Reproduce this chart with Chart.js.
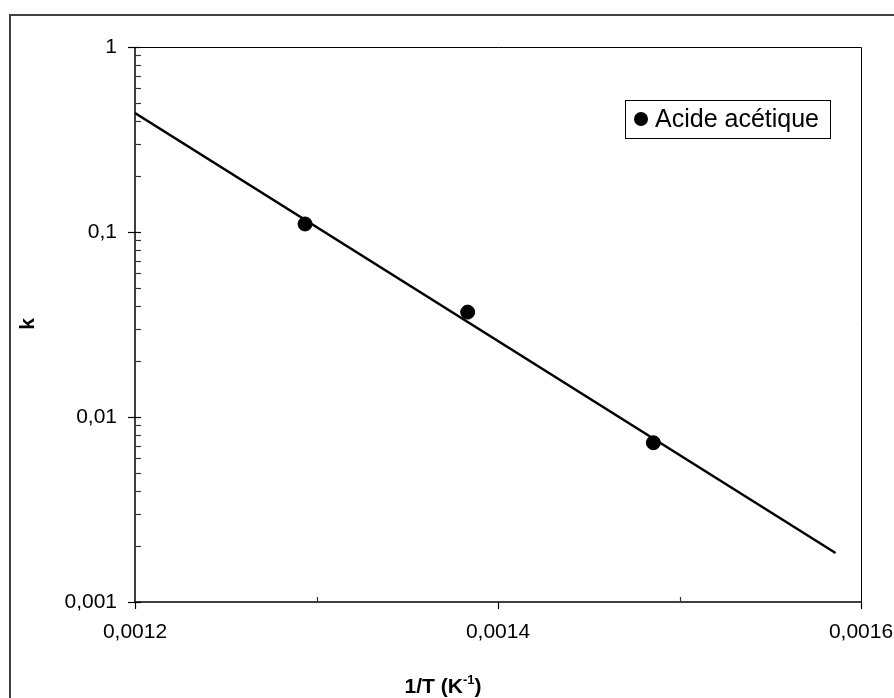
<!DOCTYPE html>
<html>
<head>
<meta charset="utf-8">
<script src="https://cdn.jsdelivr.net/npm/chart.js@4/dist/chart.umd.min.js"></script>
<style>
  html, body { margin: 0; padding: 0; background: #fff; }
  #wrap { position: relative; width: 894px; height: 698px; overflow: hidden; }
  #frame { position: absolute; left: 9px; top: 14px; width: 920px; height: 720px; border: 2px solid #404040; box-sizing: border-box; }
  canvas { position: absolute; left: 0; top: 0; }
</style>
</head>
<body>
<div id="wrap">
  <div id="frame"></div>
  <canvas id="c" width="894" height="698"></canvas>
</div>
<script>
// measured points
const seriesLabel = "Acide acétique";
const pointX = [0.0012937, 0.0013833, 0.0014856];
const pointY = [0.1105, 0.0369, 0.00726];

// fitted line (ends)
const fitX = [0.0012, 0.001586];
const fitY = [0.44, 0.00184];

// axes
const xMin = 0.0012, xMax = 0.0016;
const yMin = 0.001, yMax = 1;
const xMajor = [0.0012, 0.0014, 0.0016];
const xMinor = [0.0013, 0.0015];
const yMajor = [0.001, 0.01, 0.1, 1];
const yMinorMult = [2, 3, 4, 5, 6, 7, 8, 9];

const FONT = "Arial, 'Liberation Sans', sans-serif";
const fmt = (v) => String(Number(v.toPrecision(6))).replace(".", ",");

const frameAndTicks = {
  id: "frameAndTicks",
  afterDraw(chart) {
    const { ctx, chartArea: a, scales: { x, y } } = chart;
    ctx.save();
    ctx.strokeStyle = "#000";
    // box
    ctx.lineWidth = 1;
    ctx.beginPath();
    ctx.moveTo(a.left, a.top + 0.5); ctx.lineTo(a.right + 0.5, a.top + 0.5); ctx.lineTo(a.right + 0.5, a.bottom);
    ctx.stroke();
    ctx.lineWidth = 1.5;
    ctx.beginPath();
    ctx.moveTo(a.left, a.top); ctx.lineTo(a.left, a.bottom); ctx.lineTo(a.right, a.bottom);
    ctx.stroke();
    // y ticks
    ctx.lineWidth = 1.2;
    for (const v of yMajor) {
      const py = Math.round(y.getPixelForValue(v)) + 0.5;
      ctx.beginPath(); ctx.moveTo(a.left - 7, py); ctx.lineTo(a.left + 6, py); ctx.stroke();
    }
    ctx.strokeStyle = "#333";
    for (let i = 0; i < yMajor.length - 1; i++) {
      for (const m of yMinorMult) {
        const py = Math.round(y.getPixelForValue(yMajor[i] * m)) + 0.5;
        ctx.beginPath(); ctx.moveTo(a.left, py); ctx.lineTo(a.left + 6, py); ctx.stroke();
      }
    }
    // x ticks
    ctx.strokeStyle = "#000";
    for (const v of xMajor) {
      const px = Math.round(x.getPixelForValue(v)) + 0.5;
      ctx.beginPath(); ctx.moveTo(px, a.bottom); ctx.lineTo(px, a.bottom + 7); ctx.stroke();
    }
    ctx.strokeStyle = "#333";
    for (const v of xMinor) {
      const px = Math.round(x.getPixelForValue(v)) + 0.5;
      ctx.beginPath(); ctx.moveTo(px, a.bottom); ctx.lineTo(px, a.bottom - 5); ctx.stroke();
    }

    // axis titles
    ctx.fillStyle = "#000";
    ctx.textBaseline = "alphabetic";
    ctx.font = "bold 21px " + FONT;
    const main = "1/T (K";
    const sup = "-1";
    const tail = ")";
    const wMain = ctx.measureText(main).width;
    const wTail = ctx.measureText(tail).width;
    ctx.font = "bold 13px " + FONT;
    const wSup = ctx.measureText(sup).width;
    let tx = 443 - (wMain + wSup + wTail) / 2;
    const by = 693;
    ctx.font = "bold 21px " + FONT;
    ctx.fillText(main, tx, by); tx += wMain;
    ctx.font = "bold 13px " + FONT;
    ctx.fillText(sup, tx, by - 9); tx += wSup;
    ctx.font = "bold 21px " + FONT;
    ctx.fillText(tail, tx, by);

    ctx.save();
    ctx.translate(34, 324);
    ctx.rotate(-Math.PI / 2);
    ctx.textAlign = "center";
    ctx.font = "bold 21px " + FONT;
    ctx.fillText("k", 0, 0);
    ctx.restore();

    // legend
    const lx = 625, ly = 100, lw = 205, lh = 38;
    ctx.fillStyle = "#fff";
    ctx.fillRect(lx, ly, lw, lh);
    ctx.strokeStyle = "#000";
    ctx.lineWidth = 1;
    ctx.strokeRect(lx + 0.5, ly + 0.5, lw, lh);
    ctx.fillStyle = "#000";
    ctx.beginPath(); ctx.arc(lx + 16, ly + 19, 7, 0, Math.PI * 2); ctx.fill();
    ctx.font = "25px " + FONT;
    ctx.textBaseline = "middle";
    ctx.fillText(chart.data.datasets[1].label, lx + 30, ly + 20);
    ctx.restore();
  }
};

new Chart(document.getElementById("c"), {
  type: "scatter",
  data: {
    datasets: [
      {
        label: "fit",
        data: fitX.map((v, i) => ({ x: v, y: fitY[i] })),
        showLine: true,
        borderColor: "#000",
        borderWidth: 2.5,
        pointRadius: 0,
        order: 2
      },
      {
        label: seriesLabel,
        data: pointX.map((v, i) => ({ x: v, y: pointY[i] })),
        backgroundColor: "#000",
        borderColor: "#000",
        pointRadius: 7,
        pointHoverRadius: 7,
        order: 1
      }
    ]
  },
  options: {
    responsive: false,
    animation: false,
    events: [],
    layout: { padding: { left: 0, top: 47, right: 33, bottom: 0 } },
    plugins: { legend: { display: false }, tooltip: { enabled: false } },
    scales: {
      x: {
        type: "linear",
        min: xMin, max: xMax,
        afterBuildTicks: (s) => { s.ticks = xMajor.map(v => ({ value: v })); },
        afterFit: (s) => { s.height = 96; s.paddingLeft = 0; s.paddingRight = 0; },
        grid: { display: false, drawTicks: false },
        border: { display: false },
        ticks: {
          color: "#000",
          padding: 18,
          maxRotation: 0,
          font: { family: FONT, size: 21 },
          callback: (v) => fmt(v)
        }
      },
      y: {
        type: "logarithmic",
        min: yMin, max: yMax,
        afterBuildTicks: (s) => { s.ticks = yMajor.map(v => ({ value: v })); },
        afterFit: (s) => { s.width = 135; s.paddingTop = 0; s.paddingBottom = 0; },
        grid: { display: false, drawTicks: false },
        border: { display: false },
        ticks: {
          color: "#000",
          padding: 18,
          font: { family: FONT, size: 21 },
          callback: (v) => fmt(v)
        }
      }
    }
  },
  plugins: [frameAndTicks]
});
</script>
</body>
</html>
